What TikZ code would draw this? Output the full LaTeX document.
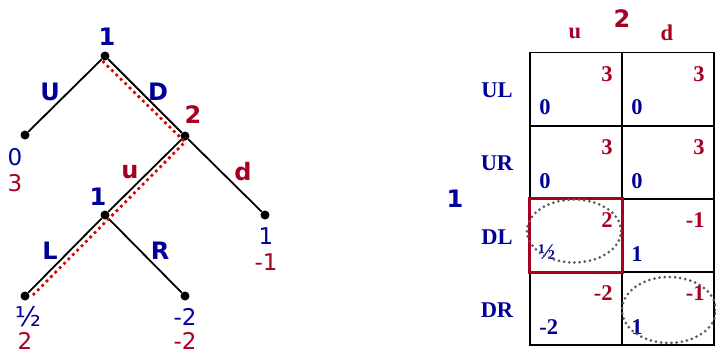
\documentclass[tikz,border=0pt]{standalone}
\usepackage{fontspec}
\usetikzlibrary{shapes.geometric}
\setmainfont{DejaVu Sans}
\newfontfamily\serifbold{Liberation Serif}[BoldFont={* Bold}]
\definecolor{pone}{RGB}{0,0,153}
\definecolor{ptwo}{RGB}{165,0,33}
\definecolor{spe}{RGB}{215,0,0}
\definecolor{ringgray}{RGB}{90,90,90}
\begin{document}
\begin{tikzpicture}[x=1pt,y=-1pt,
  dot/.style={circle,fill=black,inner sep=0pt,minimum size=9pt},
  edge/.style={line width=1.8pt},
  lab/.style={font=\fontsize{24}{28}\selectfont\bfseries,inner sep=0pt},
  pay/.style={font=\fontsize{23}{27}\selectfont,inner sep=0pt},
  spepath/.style={draw=spe,line width=3.8pt,line cap=round,dash pattern=on 0pt off 6.2pt},
  cell/.style={draw,line width=1.5pt,minimum width=92pt,minimum height=73pt,inner sep=0pt},
  mlab/.style={font=\serifbold\fontsize{22.5}{26}\selectfont\bfseries,inner sep=0pt},
  cpay/.style={font=\serifbold\fontsize{22.5}{26}\selectfont\bfseries,inner sep=0pt},
  ring/.style={draw=ringgray,line width=3pt,line cap=round,dash pattern=on 0pt off 5.2pt}]
\useasboundingbox (0,0) rectangle (716,354);

% ---------- extensive form ----------
\node[dot] (r)  at (105,56)  {};
\node[dot] (n2) at (185,136) {};
\node[dot] (lU) at (25,135)  {};
\node[dot] (n1) at (105,215) {};
\node[dot] (ld) at (265,215) {};
\node[dot] (lL) at (25,296)  {};
\node[dot] (lR) at (185,296) {};

\draw[edge] (r) -- (lU);
\draw[edge] (r) -- (n2);
\draw[edge] (n2) -- (n1);
\draw[edge] (n2) -- (ld);
\draw[edge] (n1) -- (lL);
\draw[edge] (n1) -- (lR);

% subgame perfect path
\coordinate (s0) at (103.5,62);
\coordinate (s1) at (185,142);
\coordinate (s2) at (30,298);
\draw[spepath] (s0) -- (s1) -- (s2);

% player and action labels
\node[lab,text=pone] (p1) at (107,37) {1};
\node[lab,text=ptwo] (p2) at (193,115) {2};
\node[lab,text=pone] (p1b) at (98,197) {1};
\node[lab,text=pone] (aU) at (50,92) {U};
\node[lab,text=pone] (aD) at (158,92) {D};
\node[lab,text=ptwo] (au) at (130,172) {u};
\node[lab,text=ptwo] (ad) at (243,172) {d};
\node[lab,text=pone] (aL) at (50,251) {L};
\node[lab,text=pone] (aR) at (160,251) {R};

% terminal payoffs
\node[pay,text=pone] (uU1) at (15,157) {0};
\node[pay,text=ptwo] (uU2) at (15,183) {3};
\node[pay,text=pone] (ud1) at (266,236) {1};
\node[pay,text=ptwo] (ud2) at (266,262) {-1};
\node[pay,text=pone,font=\fontsize{27}{30}\selectfont] (uL1) at (28,317) {½};
\node[pay,text=ptwo] (uL2) at (25,341) {2};
\node[pay,text=pone] (uR1) at (185,317) {-2};
\node[pay,text=ptwo] (uR2) at (185,341) {-2};

% ---------- normal form ----------
\node[cell] (c11) at (576,89)    {};
\node[cell] (c12) at (668,89)    {};
\node[cell] (c21) at (576,162.5) {};
\node[cell] (c22) at (668,162.5) {};
\node[cell] (c31) at (576,235.5) {};
\node[cell] (c32) at (668,235.5) {};
\node[cell] (c41) at (576,308.5) {};
\node[cell] (c42) at (668,308.5) {};

\node[lab,text=ptwo,font=\fontsize{24}{28}\selectfont\bfseries] (q2) at (622,19) {2};
\node[mlab,text=ptwo] (cu) at (575,33) {u};
\node[mlab,text=ptwo] (cd) at (667,33) {d};
\node[lab,text=pone] (q1) at (455,199) {1};
\node[mlab,text=pone] (rUL) at (497,90)  {UL};
\node[mlab,text=pone] (rUR) at (497,163) {UR};
\node[mlab,text=pone] (rDL) at (497,237) {DL};
\node[mlab,text=pone] (rDR) at (497,310) {DR};

% cell payoffs: player 2 top right, player 1 bottom left
\foreach \c/\a/\b in {c11/0/3, c12/0/3, c21/0/3, c22/0/3, c32/1/-1, c41/-2/-2, c42/1/-1}{
  \node[cpay,text=ptwo,anchor=east] (\c-two) at ([xshift=-10pt,yshift=-22pt]\c.north east) {\b};
  \node[cpay,text=pone,anchor=west] (\c-one) at ([xshift=10pt,yshift=19pt]\c.south west) {\a};
}
\node[cpay,text=ptwo,anchor=east] (c31-two) at ([xshift=-10pt,yshift=-22pt]c31.north east) {2};
\node[cpay,text=pone,anchor=west,font=\serifbold\fontsize{22.5}{26}\selectfont\bfseries] (c31-one) at ([xshift=9pt,yshift=21pt]c31.south west) {½};

% equilibrium highlights
\draw[draw=ptwo,line width=3pt] (c31.north west) rectangle (c31.south east);
\node[ring,ellipse,minimum width=94pt,minimum height=63pt] (e1) at (574,231) {};
\node[ring,ellipse,minimum width=94pt,minimum height=66pt] (e2) at (669,310) {};
\end{tikzpicture}
\end{document}
